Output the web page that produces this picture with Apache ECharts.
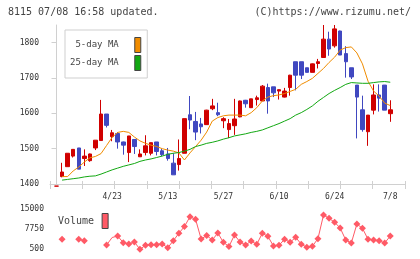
<!DOCTYPE html>
<html>
<head>
<meta charset="utf-8">
<script src="https://cdn.jsdelivr.net/npm/echarts@6/dist/echarts.min.js"></script>
<style>
  html, body { margin: 0; padding: 0; background: #fff; }
  #chart { width: 420px; height: 259px; }
</style>
</head>
<body>
<div id="chart"></div>
<script>
  // trading days shown (index 0 .. 60)
  var dates = ['4/9','4/10','4/11','4/12','4/15','4/16','4/17','4/18','4/19','4/22',
    '4/23','4/24','4/25','4/26','4/30','5/2','5/7','5/8','5/9','5/10',
    '5/13','5/14','5/15','5/16','5/17','5/20','5/21','5/22','5/23','5/24',
    '5/27','5/28','5/29','5/30','5/31','6/3','6/4','6/5','6/6','6/7',
    '6/10','6/11','6/12','6/13','6/14','6/17','6/18','6/19','6/20','6/21',
    '6/24','6/25','6/26','6/27','6/28','7/1','7/2','7/3','7/4','7/5','7/8'];

  var openV  = [1394,1421,1449,1479,1502,1472,1466,1502,1523,1598,1534,1543,1519,1489,1526,1477,1489,1487,1519,1494,
    1485,1459,1455,1487,1596,1577,1570,1568,1613,1602,1579,1554,1565,1590,1637,1616,1639,1635,1673,1675,
    1663,1646,1673,1746,1746,1729,1716,1741,1758,1810,1791,1833,1769,1729,1680,1610,1548,1609,1652,1680,1599];
  var closeV = [1394,1434,1487,1498,1442,1479,1485,1524,1598,1566,1545,1519,1510,1536,1506,1485,1508,1517,1492,1483,
    1472,1426,1472,1585,1581,1547,1562,1609,1621,1596,1585,1571,1584,1635,1627,1641,1644,1677,1635,1658,
    1667,1663,1708,1708,1708,1716,1740,1746,1810,1782,1839,1765,1746,1703,1646,1554,1595,1652,1643,1609,1610];
  var lowV   = [1394,1419,1449,1475,1442,1451,1463,1496,1523,1560,1521,1500,1483,1462,1485,1477,1481,1481,1481,1479,
    1466,1426,1438,1487,1555,1524,1543,1568,1609,1592,1558,1530,1539,1589,1616,1615,1622,1635,1599,1646,
    1639,1645,1650,1665,1697,1716,1716,1727,1758,1763,1786,1765,1701,1697,1529,1548,1508,1597,1605,1609,1576];
  var highV  = [1394,1460,1487,1498,1502,1498,1486,1524,1638,1598,1553,1547,1520,1536,1527,1498,1538,1517,1519,1500,
    1502,1487,1526,1585,1649,1604,1587,1610,1641,1630,1589,1584,1641,1636,1638,1641,1650,1680,1684,1675,
    1667,1672,1709,1746,1746,1729,1741,1754,1850,1831,1850,1834,1790,1729,1680,1650,1595,1682,1682,1680,1637];

  var ma5 = [null,1421,1421,1437,1448,1462,1474,1478,1486,1509,1532,1546,1549,1546,1533,1522,1515,1510,1506,1500,
    1496,1493,1488,1468,1488,1506,1524,1547,1578,1588,1593,1595,1595,1595,1593,1602,1616,1635,1646,1650,
    1652,1656,1662,1668,1682,1690,1699,1713,1727,1744,1759,1779,1786,1788,1771,1740,1691,1663,1649,1629,1622];
  var ma25 = [null,1411,1413,1415,1417,1420,1422,1423,1428,1434,1440,1445,1450,1454,1458,1464,1468,1471,1475,1479,
    1484,1487,1489,1493,1498,1506,1510,1515,1518,1522,1527,1531,1536,1539,1542,1546,1549,1553,1559,1565,
    1571,1578,1585,1595,1602,1611,1621,1634,1645,1656,1665,1673,1682,1687,1686,1685,1685,1687,1689,1690,1688];

  var volume = [null,4016,null,null,4016,3509,null,null,null,1950,4669,5212,2784,2312,3037,400,1841,2059,2059,2312,
    971,3509,6191,8656,12209,11266,4125,5394,3762,6300,2929,1406,5575,3037,1950,3400,2204,6191,5104,1588,
    1841,4052,2929,4741,2240,1116,1515,4234,12825,11629,10179,8112,3762,2675,9562,8004,4052,3762,3472,2675,5212];
  var volumeNoMark = [10];

  var priceTicks = [1400, 1500, 1600, 1700, 1800];
  var volumeTicks = [500, 7750, 15000];
  var dateLabelIdx = [10, 20, 30, 40, 50, 60];

  var xMin = -1.17, xMax = 62.65;
  var xTicks = [];
  for (var k = 0; k <= 11; k++) xTicks.push(xMin + (xMax - xMin) * k / 11);

  var mono = 'DejaVu Sans Mono';
  var candleData = dates.map(function (d, i) {
    return [i, openV[i], closeV[i], lowV[i], highV[i]];
  });
  function pairs(arr) {
    return arr.map(function (v, i) { return [i, v]; });
  }
  var volData = volume.map(function (v, i) {
    if (volumeNoMark.indexOf(i) >= 0) return { value: [i, v], symbol: 'none' };
    return [i, v];
  });
  function plain(v) { return String(v); }

  var chart = echarts.init(document.getElementById('chart'));
  chart.setOption({
    animation: false,
    backgroundColor: '#fff',
    title: [
      { text: '8115 07/08 16:58 updated.', left: 8, top: 7, padding: 0,
        textStyle: { fontFamily: mono, fontSize: 10, fontWeight: 'normal', color: '#444' } },
      { text: '(C)https://www.rizumu.net/', right: 9, top: 7, padding: 0,
        textStyle: { fontFamily: mono, fontSize: 10, fontWeight: 'normal', color: '#444' } }
    ],
    legend: [
      {
        data: ['5-day MA', '25-day MA'],
        orient: 'vertical', align: 'right', icon: 'rect',
        left: 65, top: 30,
        padding: [7, 6, 7, 5],
        itemWidth: 6, itemHeight: 15, itemGap: 2,
        borderColor: '#cfcfcf', borderWidth: 1, backgroundColor: '#fff',
        itemStyle: { borderColor: '#444', borderWidth: 1 },
        textStyle: { fontFamily: mono, fontSize: 9, color: '#444', padding: [0, 11, 0, 0] },
        selectedMode: false
      },
      {
        data: ['Volume'],
        align: 'right', icon: 'rect',
        left: 58, top: 213, padding: 0,
        itemWidth: 6, itemHeight: 15,
        itemStyle: { borderColor: '#444', borderWidth: 1 },
        textStyle: { fontFamily: mono, fontSize: 10, color: '#444', padding: [0, 3, 0, 0] },
        selectedMode: false
      }
    ],
    grid: [
      { left: 50, top: 25, width: 355, height: 159 },
      { left: 50, top: 209, width: 355, height: 40 }
    ],
    xAxis: [
      {
        type: 'value', gridIndex: 0, position: 'bottom', min: xMin, max: xMax,
        splitLine: { show: false },
        axisLine: { lineStyle: { color: '#d0d0d0' } },
        axisTick: { length: 5, customValues: xTicks, lineStyle: { color: '#d0d0d0' } },
        axisLabel: {
          customValues: dateLabelIdx, margin: 9,
          fontFamily: mono, fontSize: 8, color: '#333',
          formatter: function (v) { return dates[Math.round(v)]; }
        }
      },
      {
        type: 'value', gridIndex: 0, position: 'bottom', min: xMin, max: xMax,
        splitLine: { show: false }, axisLine: { show: false }, axisLabel: { show: false },
        axisTick: { inside: true, length: 3, customValues: xTicks, lineStyle: { color: '#d0d0d0' } }
      },
      {
        type: 'value', gridIndex: 1, min: xMin, max: xMax, show: false
      }
    ],
    yAxis: [
      {
        type: 'value', gridIndex: 0, min: 1400, max: 1850,
        splitLine: { show: false },
        axisLine: { show: true, lineStyle: { color: '#d0d0d0' } },
        axisTick: { show: true, length: 5, customValues: priceTicks, lineStyle: { color: '#d0d0d0' } },
        axisLabel: { customValues: priceTicks, margin: 11, fontFamily: mono, fontSize: 8, color: '#333', formatter: plain }
      },
      {
        type: 'value', gridIndex: 1, min: 500, max: 15000,
        splitLine: { show: false }, axisLine: { show: false }, axisTick: { show: false },
        axisLabel: { customValues: volumeTicks, margin: 6, fontFamily: mono, fontSize: 8, color: '#333', formatter: plain }
      }
    ],
    series: [
      {
        name: 'price', type: 'candlestick', xAxisIndex: 0, yAxisIndex: 0,
        clip: false, barWidth: 4,
        encode: { x: 0, y: [1, 2, 3, 4] },
        itemStyle: {
          color: '#d00000', color0: '#4048c0',
          borderColor: '#d00000', borderColor0: '#4048c0', borderWidth: 1
        },
        data: candleData
      },
      {
        name: '5-day MA', type: 'line', xAxisIndex: 0, yAxisIndex: 0,
        showSymbol: false, color: '#f08c00',
        lineStyle: { width: 1, color: '#f08c00' },
        data: pairs(ma5)
      },
      {
        name: '25-day MA', type: 'line', xAxisIndex: 0, yAxisIndex: 0,
        showSymbol: false, color: '#12a812',
        lineStyle: { width: 1, color: '#12a812' },
        data: pairs(ma25)
      },
      {
        name: 'Volume', type: 'line', xAxisIndex: 2, yAxisIndex: 1,
        clip: false, symbol: 'diamond', symbolSize: 7, color: '#ff5a66',
        itemStyle: { color: '#ff5a66' },
        lineStyle: { width: 1, color: '#ff5a66' },
        data: volData
      }
    ]
  });
</script>
</body>
</html>
